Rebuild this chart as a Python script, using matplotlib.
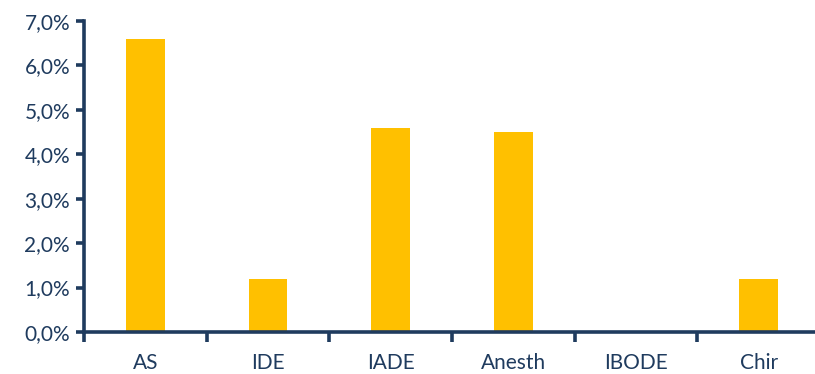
import matplotlib
matplotlib.use("Agg")
import matplotlib.pyplot as plt
from matplotlib.ticker import FuncFormatter

categories = ["AS", "IDE", "IADE", "Anesth", "IBODE", "Chir"]
values = [6.6, 1.2, 4.6, 4.5, 0.0, 1.2]  # percent

navy = "#1F3B5E"
gold = "#FFC000"

plt.rcParams["font.family"] = ["Lato", "DejaVu Sans"]

fig = plt.figure(figsize=(8.15, 3.74), dpi=100)
ax = fig.add_axes([84 / 815, 42 / 374, 736 / 815, 311 / 374])

x = range(len(categories))
ax.bar(x, values, width=0.315, color=gold, zorder=2)

ax.set_xlim(-0.5, len(categories) - 0.5)
ax.set_ylim(0, 7)
ax.set_yticks(range(0, 8))
ax.yaxis.set_major_formatter(FuncFormatter(lambda v, p: f"{v:.1f}%".replace(".", ",")))

# category labels centred, tick marks between categories
ax.set_xticks([i - 0.5 for i in range(len(categories) + 1)])
ax.set_xticklabels([])
ax.set_xticks(list(x), minor=True)
ax.set_xticklabels(categories, minor=True)
ax.tick_params(axis="x", which="minor", length=0, pad=15, labelsize=15, labelcolor=navy)
ax.tick_params(axis="x", which="major", length=7, width=2.6, color=navy, direction="out")
ax.tick_params(axis="y", length=6, width=2.6, color=navy, labelsize=15, labelcolor=navy, pad=4)

for side in ["top", "right"]:
    ax.spines[side].set_visible(False)
for side in ["left", "bottom"]:
    ax.spines[side].set_color(navy)
    ax.spines[side].set_linewidth(2.6)

fig.savefig("out.png", dpi=100)
